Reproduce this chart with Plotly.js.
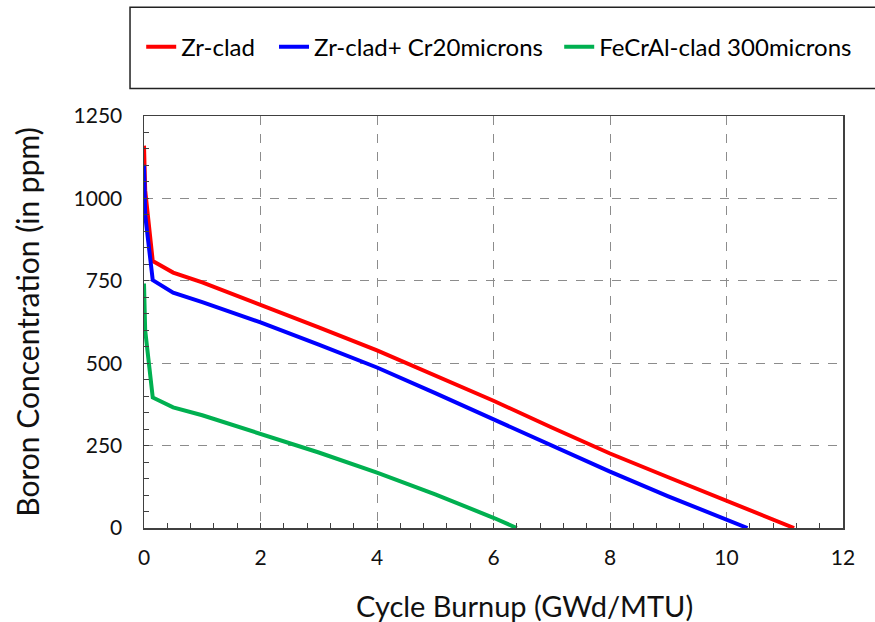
<!DOCTYPE html>
<html>
<head>
<meta charset="utf-8">
<script src="https://cdn.plot.ly/plotly-3.0.1.min.js"></script>
<style>
  html, body { margin: 0; padding: 0; background: #fff; }
  #chart { width: 875px; height: 622px; }
</style>
</head>
<body>
<div id="chart"></div>
<script>
// Boron letdown curves vs. cycle burnup for three cladding options
const seriesNames = ["Zr-clad", "Zr-clad+ Cr20microns", "FeCrAl-clad 300microns"];

const zrBurnup = [0, 0.02, 0.15, 0.5, 1, 2, 3, 4, 5, 6, 7, 8, 9, 10, 11.16];
const zrBoron  = [1160, 1025, 810, 775, 745, 678, 609, 539, 463, 386, 305, 226, 154, 82, 0];

const crBurnup = [0, 0.02, 0.15, 0.5, 1, 2, 3, 4, 5, 6, 7, 8, 9, 10, 10.36];
const crBoron  = [1102, 950, 752, 714, 685, 624, 556, 487, 409, 329, 249, 171, 96, 23, 0];

const fecralBurnup = [0, 0.02, 0.15, 0.5, 1, 2, 3, 4, 5, 6, 6.4];
const fecralBoron  = [742, 600, 396, 366, 342, 285, 229, 168, 102, 31, 0];

const xTickVals = [0, 2, 4, 6, 8, 10, 12];
const yTickVals = [0, 250, 500, 750, 1000, 1250];

const xTitle = "Cycle Burnup (GWd/MTU)";
const yTitle = "Boron Concentration (in ppm)";

const colors = ["#FF0000", "#0000FF", "#00B050"];
const FONT = "Lato, 'Open Sans', sans-serif";

const traces = [
  { x: zrBurnup, y: zrBoron, name: seriesNames[0], legend: "legend" },
  { x: crBurnup, y: crBoron, name: seriesNames[1], legend: "legend2" },
  { x: fecralBurnup, y: fecralBoron, name: seriesNames[2], legend: "legend3" }
].map((t, i) => Object.assign(t, {
  type: "scatter",
  mode: "lines",
  line: { color: colors[i], width: 4 }
}));

function legendAt(xp) {
  return {
    orientation: "h",
    x: xp, xanchor: "left",
    y: 1.167, yanchor: "middle",
    bgcolor: "rgba(0,0,0,0)",
    borderwidth: 0,
    font: { family: FONT, size: 24, color: "#000" },
    itemwidth: 30
  };
}

const axisCommon = {
  showline: true,
  linecolor: "#404040",
  linewidth: 1.5,
  mirror: true,
  ticks: "inside",
  ticklen: 5,
  tickwidth: 1,
  tickcolor: "#404040",
  showgrid: true,
  gridcolor: "#8c8c8c",
  gridwidth: 1,
  griddash: "dash",
  zeroline: false,
  tickfont: { family: FONT, size: 21, color: "#111" }
};

const layout = {
  width: 875,
  height: 622,
  margin: { l: 144, r: 32, t: 116, b: 94, pad: 0 },
  paper_bgcolor: "#fff",
  plot_bgcolor: "#fff",
  showlegend: true,
  legend: legendAt(-0.004),
  legend2: legendAt(0.186),
  legend3: legendAt(0.594),
  xaxis: Object.assign({}, axisCommon, {
    range: [0, 12],
    tickvals: xTickVals,
    ticklabelstandoff: 10,
    minor: { dtick: 0.4, tick0: 0, ticks: "inside", ticklen: 5, tickcolor: "#404040", showgrid: false }
  }),
  yaxis: Object.assign({}, axisCommon, {
    range: [0, 1250],
    tickvals: yTickVals,
    ticklabelstandoff: 16,
    minor: { dtick: 50, tick0: 0, ticks: "inside", ticklen: 5, tickcolor: "#404040", showgrid: false },
    title: { text: yTitle, font: { family: FONT, size: 30, color: "#111" }, standoff: 25 }
  }),
  annotations: [{
    // x-axis title, set slightly right of the plot centre
    text: xTitle,
    xref: "paper", yref: "paper",
    x: 0.545, y: -0.188,
    xanchor: "center", yanchor: "middle",
    showarrow: false,
    font: { family: FONT, size: 29, color: "#111" }
  }],
  shapes: [{
    type: "rect", xref: "paper", yref: "paper",
    x0: -0.02, x1: 1.06, y0: 1.067, y1: 1.264,
    line: { color: "#222", width: 1.5 },
    fillcolor: "rgba(0,0,0,0)"
  }]
};

Plotly.newPlot("chart", traces, layout, { displayModeBar: false, staticPlot: true });
</script>
</body>
</html>
